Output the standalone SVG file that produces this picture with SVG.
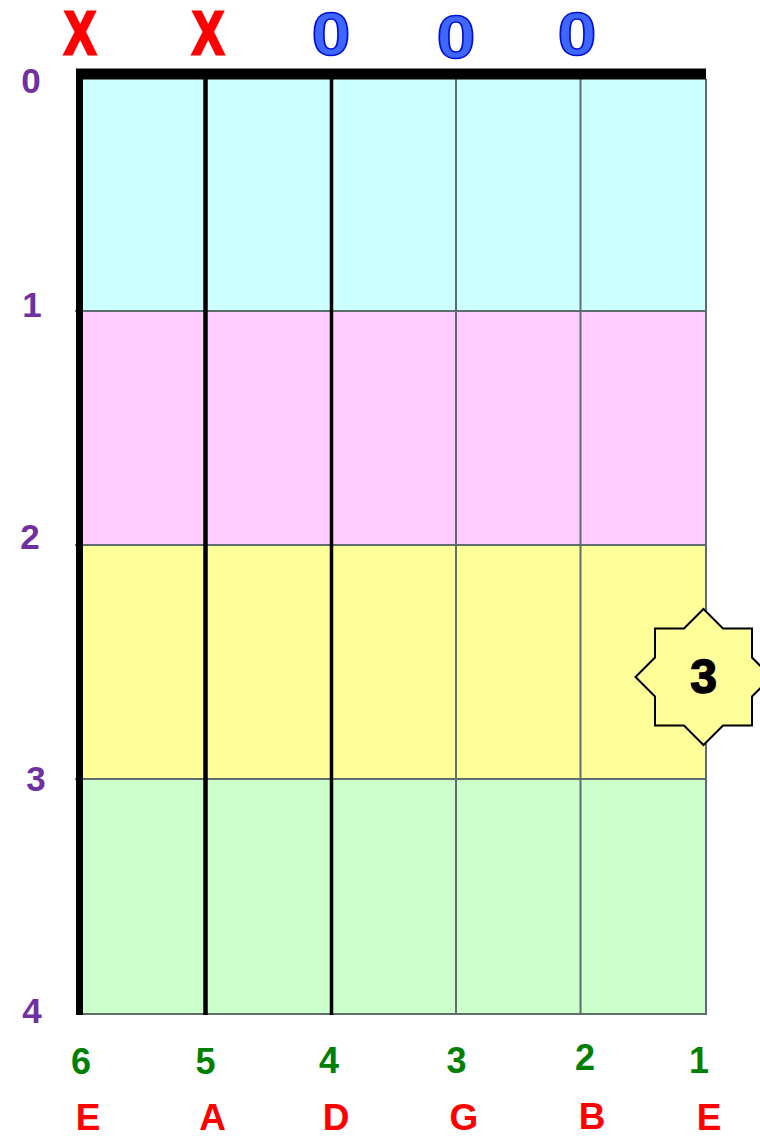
<svg xmlns="http://www.w3.org/2000/svg" width="760" height="1138" viewBox="0 0 760 1138">
<style>
.lbl{font-family:"Liberation Sans",Arial,sans-serif;font-weight:bold;text-anchor:middle}
.fret{fill:#7030A0;font-size:35px}
.num{fill:#008000;font-size:36px}
.note{fill:#FF0000;font-size:37px}
.mx{fill:#FF0000;stroke:#FF0000;stroke-width:3;font-size:61px}
.mo{fill:#3F66FF;stroke:#0010D0;stroke-width:1.5;font-size:61px}
.thin{stroke:#5E6E6E;stroke-width:2;fill:none}
.thick{stroke:#000;fill:none}
</style>
<rect width="760" height="1138" fill="#fff"/>
<g id="fretboard">
<rect x="79" y="79" width="627" height="232" fill="#CCFFFF"/>
<rect x="79" y="311" width="627" height="234" fill="#FFCCFF"/>
<rect x="79" y="545" width="627" height="234" fill="#FFFF99"/>
<rect x="79" y="779" width="627" height="235" fill="#CCFFCC"/>
</g>
<g id="connectors">
<line class="thin" x1="75" y1="311" x2="706" y2="311"/>
<line class="thin" x1="75" y1="545" x2="706" y2="545"/>
<line class="thin" x1="75" y1="779" x2="706" y2="779"/>
<line class="thin" x1="76" y1="1014" x2="707" y2="1014"/>
<line class="thin" x1="456" y1="79" x2="456" y2="1014"/>
<line class="thin" x1="580.5" y1="79" x2="580.5" y2="1014"/>
<line class="thin" x1="706" y1="79" x2="706" y2="1015"/>
<line class="thick" x1="331.5" y1="79" x2="331.5" y2="1015" stroke-width="3.5"/>
<line class="thick" x1="205.5" y1="79" x2="205.5" y2="1015" stroke-width="4.5"/>
<line class="thick" x1="79.5" y1="74" x2="79.5" y2="1015" stroke-width="7"/>
<rect x="76" y="68.5" width="630" height="11" fill="#000"/>
</g>
<g id="open-muted">
<text class="lbl mx" transform="translate(80,54) scale(0.78,1)">X</text>
<text class="lbl mx" transform="translate(208,54) scale(0.78,1)">X</text>
<text class="lbl mo" transform="translate(331,55) scale(1.15,1)">0</text>
<text class="lbl mo" transform="translate(456,58) scale(1.15,1)">0</text>
<text class="lbl mo" transform="translate(577,55) scale(1.15,1)">0</text>
</g>
<g id="fret-numbers">
<text class="lbl fret" x="31" y="93">0</text>
<text class="lbl fret" x="32" y="317">1</text>
<text class="lbl fret" x="30" y="549">2</text>
<text class="lbl fret" x="36" y="791">3</text>
<text class="lbl fret" x="32" y="1023">4</text>
</g>
<g id="string-numbers">
<text class="lbl num" x="81" y="1074">6</text>
<text class="lbl num" x="205.5" y="1074">5</text>
<text class="lbl num" x="329" y="1073">4</text>
<text class="lbl num" x="456.5" y="1073">3</text>
<text class="lbl num" x="585" y="1070">2</text>
<text class="lbl num" x="699" y="1073">1</text>
</g>
<g id="string-notes">
<text class="lbl note" x="88" y="1130">E</text>
<text class="lbl note" x="212.5" y="1130">A</text>
<text class="lbl note" x="336" y="1130">D</text>
<text class="lbl note" x="464" y="1130">G</text>
<text class="lbl note" x="592" y="1129">B</text>
<text class="lbl note" x="709" y="1130">E</text>
</g>
<g id="fret-star" transform="translate(703.5,677)">
<polygon points="0,-68 19.5,-48.5 48.5,-48.5 48.5,-19.5 68,0 48.5,19.5 48.5,48.5 19.5,48.5 0,68 -19.5,48.5 -48.5,48.5 -48.5,19.5 -68,0 -48.5,-19.5 -48.5,-48.5 -19.5,-48.5" fill="#FFFF99" stroke="#000" stroke-width="2"/>
<text class="lbl" x="0" y="16" font-size="48" fill="#000" stroke="#000" stroke-width="1.5">3</text>
</g>
</svg>
